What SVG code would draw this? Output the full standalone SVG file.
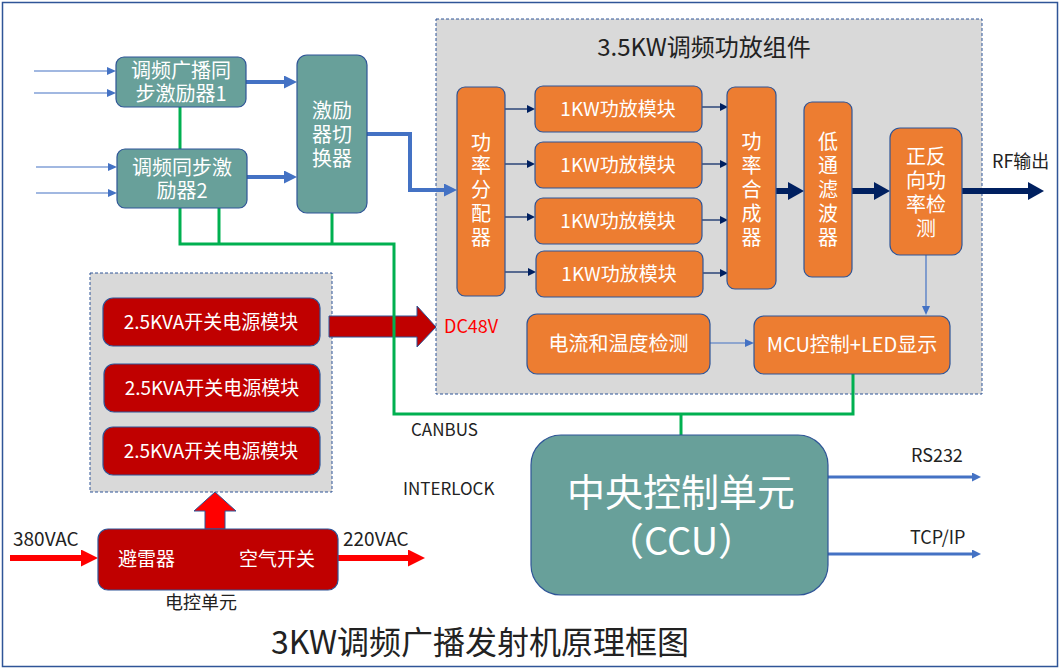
<svg xmlns="http://www.w3.org/2000/svg" width="1062" height="670" viewBox="0 0 1062 670">
<style>
text{font-family:"Noto Sans CJK SC","Liberation Sans",sans-serif}
.w{fill:#fff}
.k{fill:#222}
.m{text-anchor:middle}
.teal{fill:#68A09A;stroke:#2F5597;stroke-width:1.2}
.org{fill:#ED7D31;stroke:#2F5597;stroke-width:1.2}
.red{fill:#C00000;stroke:#2F5597;stroke-width:1.2}
.grp{fill:#D9D9D9;stroke:#2F5597;stroke-width:1;stroke-dasharray:3 2}
.bt{stroke:#4472C4;stroke-width:1.2;fill:none}
.bT{stroke:#4472C4;stroke-width:4;fill:none}
.b3{stroke:#4472C4;stroke-width:3;fill:none}
.nt{stroke:#002060;stroke-width:1.2;fill:none}
.nT{stroke:#002060;stroke-width:6;fill:none}
.g{stroke:#00B050;stroke-width:3;fill:none}
.r{stroke:#FF0000;stroke-width:6;fill:none}
</style>
<defs>
<marker id="ab" markerUnits="userSpaceOnUse" markerWidth="9" markerHeight="8" refX="1" refY="4" orient="auto"><path d="M0,0L9,4L0,8z" fill="#4472C4"/></marker>
<marker id="abT" markerUnits="userSpaceOnUse" markerWidth="13" markerHeight="13" refX="0" refY="6.5" orient="auto"><path d="M0,0L13,6.5L0,13z" fill="#4472C4"/></marker>
<marker id="ab3" markerUnits="userSpaceOnUse" markerWidth="9" markerHeight="9" refX="0" refY="4.5" orient="auto"><path d="M0,0L9,4.5L0,9z" fill="#4472C4"/></marker>
<marker id="an" markerUnits="userSpaceOnUse" markerWidth="8" markerHeight="8" refX="0" refY="4" orient="auto"><path d="M0,0L8,4L0,8z" fill="#002060"/></marker>
<marker id="anT" markerUnits="userSpaceOnUse" markerWidth="16" markerHeight="18" refX="0" refY="9" orient="auto"><path d="M0,0L16,9L0,18z" fill="#002060"/></marker>
<marker id="ar" markerUnits="userSpaceOnUse" markerWidth="17" markerHeight="17" refX="0" refY="8.5" orient="auto"><path d="M0,0L17,8.5L0,17z" fill="#FF0000"/></marker>
</defs>
<rect x="2.5" y="2.5" width="1055" height="664" fill="#fff" stroke="#2F5597" stroke-width="1.5"/>

<g id="amp-group">
<rect class="grp" x="436" y="19" width="546" height="375"/>
<text class="k m" x="704" y="56" font-size="24">3.5KW调频功放组件</text>
</g>
<g id="power-group">
<rect class="grp" x="90" y="273" width="242" height="219"/>
</g>

<g id="connectors">
<path class="bt" d="M34,71H108" marker-end="url(#ab)"/>
<path class="bt" d="M34,93H108" marker-end="url(#ab)"/>
<path class="bt" d="M36,167H109" marker-end="url(#ab)"/>
<path class="bt" d="M36,193H109" marker-end="url(#ab)"/>
<path class="bT" d="M246,82H284" marker-end="url(#abT)"/>
<path class="bT" d="M247,177H284" marker-end="url(#abT)"/>
<path class="bT" d="M367,134H410V190H444" marker-end="url(#abT)"/>
<path class="nt" d="M505,109H527" marker-end="url(#an)"/>
<path class="nt" d="M505,164H527" marker-end="url(#an)"/>
<path class="nt" d="M505,217H527" marker-end="url(#an)"/>
<path class="nt" d="M505,272H528" marker-end="url(#an)"/>
<path class="nt" d="M702,107H720" marker-end="url(#an)"/>
<path class="nt" d="M702,164H720" marker-end="url(#an)"/>
<path class="nt" d="M702,220H720" marker-end="url(#an)"/>
<path class="nt" d="M703,273H720" marker-end="url(#an)"/>
<path class="nT" d="M776,191H788" marker-end="url(#anT)"/>
<path class="nT" d="M852,191H874" marker-end="url(#anT)"/>
<path class="nT" d="M962,191H1028" marker-end="url(#anT)"/>
<path class="bt" d="M926,255V307" marker-end="url(#ab)"/>
<path class="bt" d="M710,343H746" marker-end="url(#ab)"/>
<path class="b3" d="M828,477H972" marker-end="url(#ab3)"/>
<path class="b3" d="M828,554H972" marker-end="url(#ab3)"/>
<path class="r" d="M10,558H81" marker-end="url(#ar)"/>
<path class="r" d="M338,558H408" marker-end="url(#ar)"/>
<polygon points="205,529 225,529 225,511 236,511 215,492 194,511 205,511" fill="#FF0000" stroke="#2F5597" stroke-width="1"/>
<polygon points="329,316 417,316 417,306 436,327 417,347 417,337 329,337" fill="#C00000" stroke="#2F5597" stroke-width="1"/>
<path class="g" d="M180,107V149"/>
<path class="g" d="M180,208V244H394V414H853V374"/>
<path class="g" d="M219,208V244"/>
<path class="g" d="M332,213V244"/>
<path class="g" d="M681,414V435"/>
</g>

<g id="exciter1">
<rect class="teal" x="116" y="57" width="130" height="50" rx="8"/>
<text class="w m" x="181" y="78" font-size="20">调频广播同</text>
<text class="w m" x="181" y="101" font-size="20">步激励器1</text>
</g>
<g id="exciter2">
<rect class="teal" x="117" y="149" width="130" height="59" rx="8"/>
<text class="w m" x="182" y="175" font-size="20">调频同步激</text>
<text class="w m" x="182" y="198" font-size="20">励器2</text>
</g>
<g id="switcher">
<rect class="teal" x="297" y="55" width="70" height="158" rx="10"/>
<text class="w m" x="332" y="118" font-size="20">激励</text>
<text class="w m" x="332" y="142" font-size="20">器切</text>
<text class="w m" x="332" y="166" font-size="20">换器</text>
</g>

<g id="divider">
<rect class="org" x="457" y="87" width="48" height="209" rx="8"/>
<text class="w m" x="481" font-size="20"><tspan x="481" y="150">功</tspan><tspan x="481" y="173">率</tspan><tspan x="481" y="197">分</tspan><tspan x="481" y="221">配</tspan><tspan x="481" y="245">器</tspan></text>
</g>
<g id="amp1"><rect class="org" x="535" y="86" width="167" height="46" rx="8"/><text class="w m" x="618" y="116" font-size="19">1KW功放模块</text></g>
<g id="amp2"><rect class="org" x="535" y="142" width="167" height="46" rx="8"/><text class="w m" x="618" y="172" font-size="19">1KW功放模块</text></g>
<g id="amp3"><rect class="org" x="535" y="198" width="167" height="46" rx="8"/><text class="w m" x="618" y="228" font-size="19">1KW功放模块</text></g>
<g id="amp4"><rect class="org" x="536" y="251" width="167" height="46" rx="8"/><text class="w m" x="619" y="281" font-size="19">1KW功放模块</text></g>
<g id="combiner">
<rect class="org" x="727" y="87" width="49" height="202" rx="8"/>
<text class="w m" font-size="20"><tspan x="751.5" y="149">功</tspan><tspan x="751.5" y="173">率</tspan><tspan x="751.5" y="197">合</tspan><tspan x="751.5" y="221">成</tspan><tspan x="751.5" y="245">器</tspan></text>
</g>
<g id="lpf">
<rect class="org" x="804" y="102" width="48" height="175" rx="8"/>
<text class="w m" font-size="20"><tspan x="828" y="149">低</tspan><tspan x="828" y="173">通</tspan><tspan x="828" y="197">滤</tspan><tspan x="828" y="221">波</tspan><tspan x="828" y="245">器</tspan></text>
</g>
<g id="detector">
<rect class="org" x="890" y="128" width="72" height="127" rx="10"/>
<text class="w m" font-size="20"><tspan x="926" y="164">正反</tspan><tspan x="926" y="188">向功</tspan><tspan x="926" y="212">率检</tspan><tspan x="926" y="236">测</tspan></text>
</g>
<text class="k" x="992" y="168" font-size="18">RF输出</text>
<g id="sensor">
<rect class="org" x="527" y="314" width="183" height="60" rx="10"/>
<text class="w m" x="618.5" y="351" font-size="20">电流和温度检测</text>
</g>
<g id="mcu">
<rect class="org" x="754" y="316" width="196" height="58" rx="10"/>
<text class="w m" x="852" y="352" font-size="20">MCU控制+LED显示</text>
</g>

<g id="psu1"><rect class="red" x="103" y="298" width="217" height="48" rx="10"/><text class="w m" x="211" y="329" font-size="19">2.5KVA开关电源模块</text></g>
<g id="psu2"><rect class="red" x="104" y="364" width="216" height="48" rx="10"/><text class="w m" x="212" y="395" font-size="19">2.5KVA开关电源模块</text></g>
<g id="psu3"><rect class="red" x="103" y="427" width="217" height="48" rx="10"/><text class="w m" x="211" y="458" font-size="19">2.5KVA开关电源模块</text></g>
<text x="444" y="333" font-size="18" fill="#FF0000">DC48V</text>

<g id="control-unit">
<rect class="red" x="98" y="529" width="240" height="61" rx="10"/>
<text class="w" x="118" y="566" font-size="19">避雷器</text>
<text class="w" x="239" y="566" font-size="19">空气开关</text>
<text class="k" x="165" y="609" font-size="18">电控单元</text>
</g>
<text class="k" x="13" y="546" font-size="19">380VAC</text>
<text class="k" x="343" y="546" font-size="19">220VAC</text>

<g id="ccu">
<rect class="teal" x="531" y="435" width="297" height="160" rx="30"/>
<text class="w m" x="681" y="506" font-size="38">中央控制单元</text>
<text class="w m" x="681" y="555" font-size="38">（CCU）</text>
</g>
<text class="k" x="911" y="462" font-size="18">RS232</text>
<text class="k" x="910" y="544" font-size="18">TCP/IP</text>
<text class="k" x="411" y="436" font-size="17">CANBUS</text>
<text class="k" x="403" y="495" font-size="17">INTERLOCK</text>
<text class="k m" x="480" y="654" font-size="32">3KW调频广播发射机原理框图</text>
</svg>
